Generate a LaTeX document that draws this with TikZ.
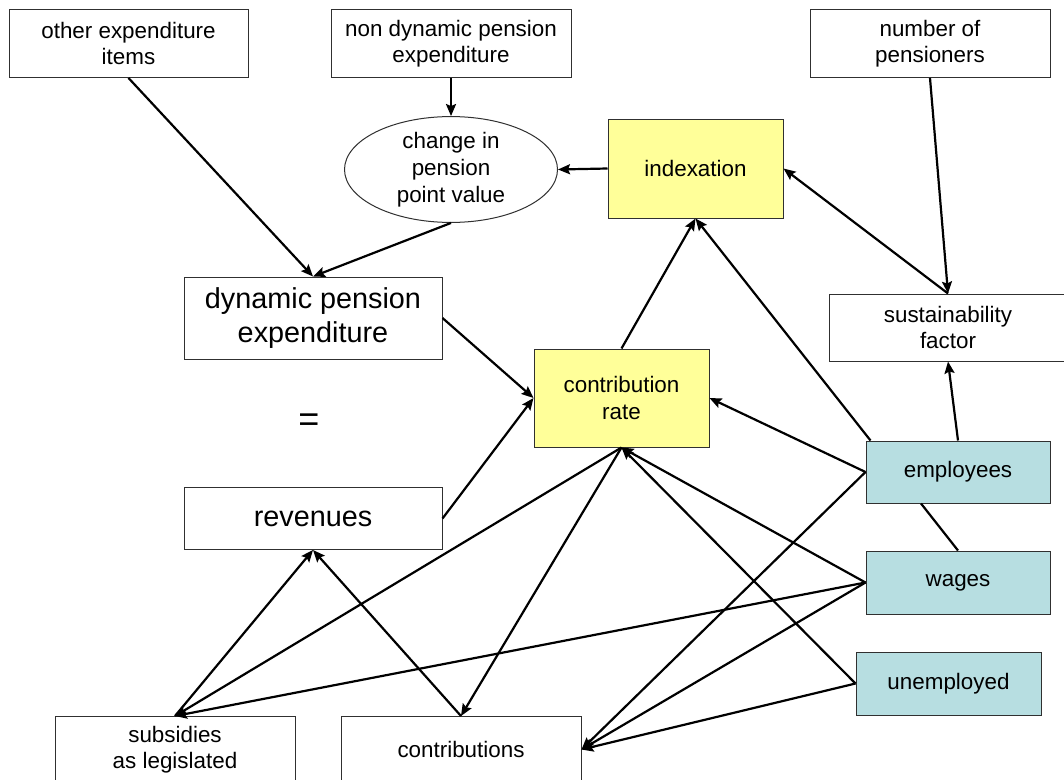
\documentclass[tikz,border=0pt]{standalone}
\usepackage{fontspec}
\setmainfont{Liberation Sans}
\usetikzlibrary{arrows.meta,shapes.geometric}
\definecolor{boxyellow}{HTML}{FFFF99}
\definecolor{boxteal}{HTML}{B7DEE1}
\definecolor{edgegray}{HTML}{303030}
\begin{document}
\begin{tikzpicture}[x=1pt,y=-1pt,
  box/.style={draw=edgegray, line width=1pt, rectangle, inner sep=0pt, align=center,
    font=\fontsize{22.4}{26.5}\selectfont},
  bigbox/.style={box, font=\fontsize{28.8}{33.5}\selectfont},
  keybox/.style={box, fill=boxyellow},
  inputbox/.style={box, fill=boxteal},
  link/.style={line width=2.2pt, -{Stealth[length=12pt,width=10pt,inset=2pt]}},
  plainlink/.style={line width=2.2pt}]

\useasboundingbox (0,0) rectangle (1064,779);
\fill[white] (0,0) rectangle (1064,779);
\clip (0,0) rectangle (1064,779);

% top row
\node[box, minimum width=239pt, minimum height=68pt] (oth) at (128.5,43.5) {other expenditure\\items};
\node[box, minimum width=240pt, minimum height=68pt] (nondyn) at (451,43.5) {non dynamic pension\\expenditure};
\node[box, minimum width=240pt, minimum height=68pt] (nop) at (930,43.5) {number of\\pensioners};

% pension point value and indexation
\node[draw=edgegray, line width=1pt, ellipse, inner sep=0pt, minimum width=213pt, minimum height=101pt,
  align=center, font=\fontsize{22.4}{27}\selectfont] (chg) at (451,169.5) {change in\\pension\\point value};
\node[keybox, minimum width=175pt, minimum height=99pt] (ind) at (695.5,168.5) {indexation};

% budget identity
\node[bigbox, minimum width=258pt, minimum height=82pt] (dyn) at (313,318) {dynamic pension\\expenditure};
\node[font=\fontsize{36}{40}\selectfont, inner sep=0pt] (eq) at (309,423) {=};
\node[bigbox, minimum width=258pt, minimum height=62pt] (rev) at (313,518.5) {revenues};

\node[keybox, minimum width=175pt, minimum height=98pt] (crate) at (621.5,398) {contribution\\rate};
\node[box, minimum width=238pt, minimum height=67pt] (sus) at (948,327.5) {sustainability\\factor};

% labour market inputs
\node[inputbox, minimum width=184pt, minimum height=62pt] (emp) at (958,472) {employees};
\node[inputbox, minimum width=184pt, minimum height=63pt] (wag) at (958,582.5) {wages};
\node[inputbox, minimum width=185pt, minimum height=63pt] (unemp) at (948.5,683.5) {unemployed};

% revenue sources
\node[box, minimum width=240pt, minimum height=66pt] (sub) at (175,749.5) {subsidies\\as legislated};
\node[box, minimum width=240pt, minimum height=66pt] (con) at (461,749.5) {contributions};

% expenditure side
\draw[link] (oth.south) -- (dyn.north);
\draw[link] (nondyn.south) -- (chg.north);
\draw[link] (chg.south) -- (dyn.north);
\draw[link] (ind.west) -- (chg.east);

% indexation inputs
\draw[link] (nop.south) -- (sus.north);
\draw[link] (sus.north) -- (ind.east);
\draw[link] (crate.north) -- (ind.south);
\draw[link] ([xshift=5pt]emp.north west) -- (ind.south);
\draw[link] (emp.north) -- (sus.south);

% contribution rate
\draw[link] (dyn.east) -- (crate.west);
\draw[link] (rev.east) -- (crate.west);
\draw[link] (emp.west) -- (crate.east);
\draw[link] (wag.west) -- (crate.south);
\draw[link] (unemp.west) -- (crate.south);
\draw[plainlink] ([xshift=-37pt]emp.south) -- (wag.north);

% revenues
\draw[link] (crate.south) -- (con.north);
\draw[link] (crate.south) -- (sub.north);
\draw[link] (wag.west) -- (sub.north);
\draw[link] (sub.north) -- (rev.south);
\draw[link] (con.north) -- (rev.south);
\draw[link] (emp.west) -- (con.east);
\draw[link] (wag.west) -- (con.east);
\draw[link] (unemp.west) -- (con.east);
\end{tikzpicture}
\end{document}
